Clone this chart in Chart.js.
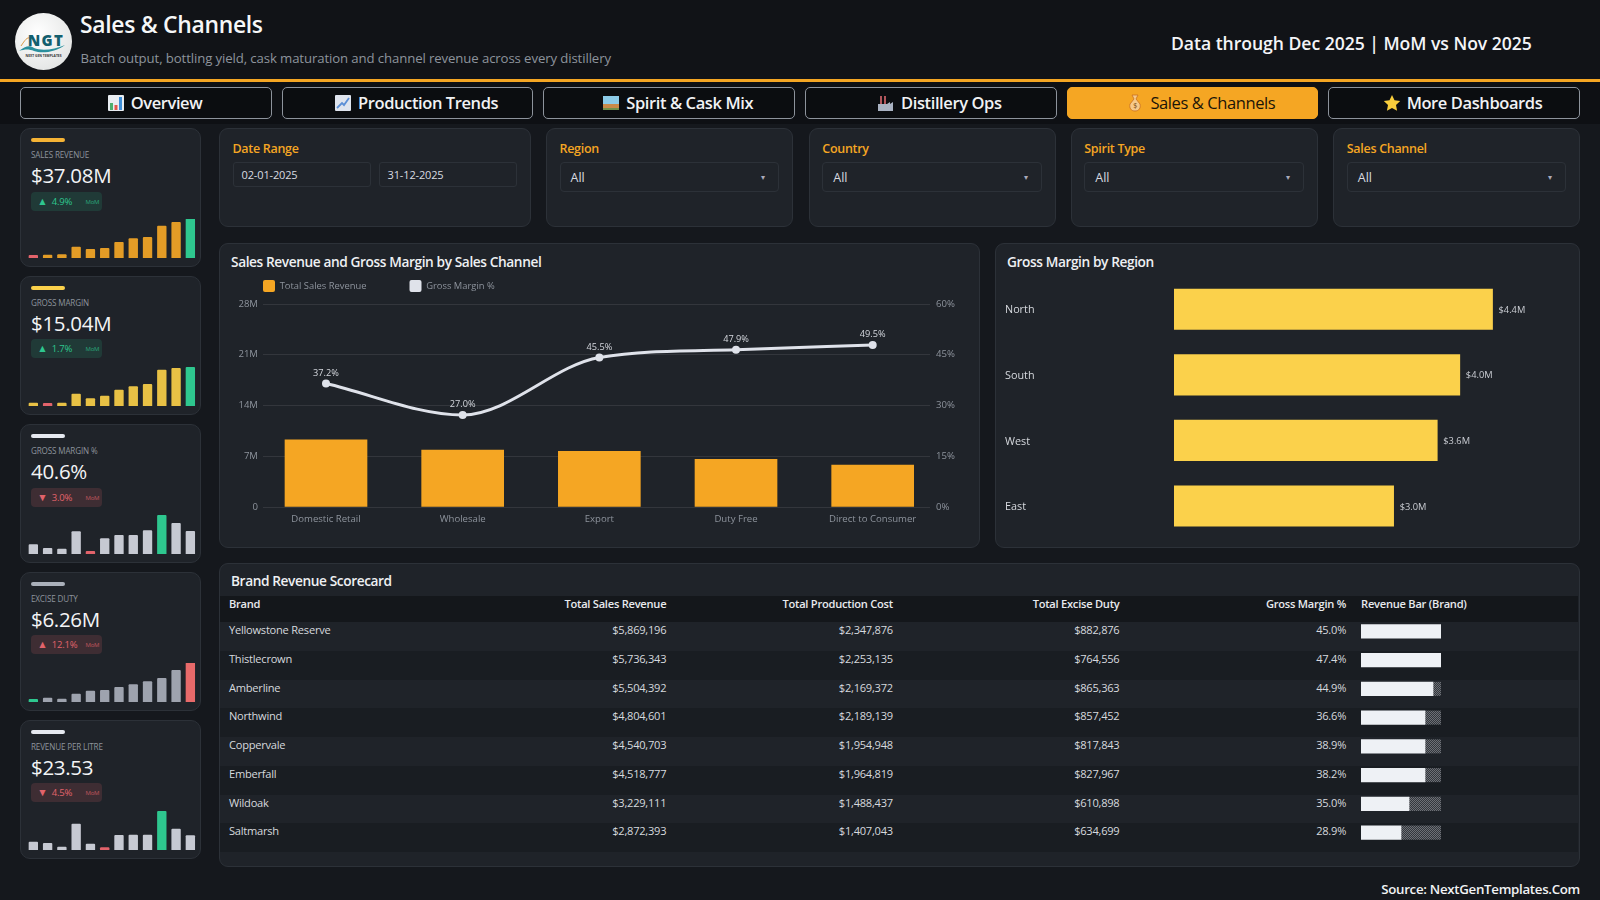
<!DOCTYPE html>
<html><head><meta charset="utf-8">
<script src="https://cdn.jsdelivr.net/npm/chart.js@4"></script>
<style>
*{box-sizing:border-box}
html,body{margin:0;padding:0;width:1600px;height:900px;overflow:hidden;background:#15181d;font-family:"Open Sans",sans-serif;color:#e8eaee}
.abs,canvas{position:absolute}
#top{left:0;top:0;width:1600px;height:79px;background:#111317}
#rule{left:0;top:78.5px;width:1600px;height:3.5px;background:#f5a623}
#nav{left:0;top:82px;width:1600px;height:42px;background:#0e1014}
.logo{left:15px;top:12.5px;width:57px;height:57px;border-radius:50%;background:radial-gradient(circle at 40% 35%,#fff,#dcdedd)}
.tab{top:86.7px;height:32px;width:251.6px;padding-left:17px;background:#0b0d10;border:1px solid #8d939c;border-radius:5px;display:flex;align-items:center;justify-content:center;gap:6px;font-size:16.5px;font-weight:600;letter-spacing:-.4px;color:#f1f2f4}
.tab.on{background:#f5a623;border-color:#f5a623;color:#1b1508;font-weight:500}
.tab svg{width:18px;height:18px}
.panel{background:#1f2329;border:1px solid #2c3138;border-radius:9px}
.flabel{top:140px;font-size:12.5px;font-weight:600;color:#f5a623;letter-spacing:-.3px}
.sel{top:162.3px;height:29.5px;border:1px solid #2c3138;border-radius:4px;font-size:12.5px;color:#d8dbe0;padding:6px 10px;line-height:18px}
.sel i{position:absolute;right:13px;top:5px;font-style:normal;font-size:8px;color:#aab}
.date{top:162.2px;height:24.5px;border:1px solid #2c3138;border-radius:3px;font-size:11px;color:#d8dbe0;padding:3px 8px;line-height:17px;letter-spacing:-.15px}
.accent{left:31px;width:34px;height:4px;border-radius:2px}
.klabel{left:31px;font-size:8.1px;color:#8d939c;letter-spacing:-.15px;white-space:nowrap}
.kval{left:31px;font-size:20.5px;font-weight:500;color:#f3f4f6;letter-spacing:-.3px;white-space:nowrap}
.badge{left:31.3px;width:71px;height:19px;border-radius:4px;font-size:9.5px;line-height:19px;padding-left:6px;white-space:nowrap;letter-spacing:-.2px}
.badge b{font-weight:400;font-size:10.5px;margin-right:2px}
.badge s{position:absolute;right:3px;top:0;text-decoration:none;font-size:6px;line-height:20px;opacity:.75}
.ptitle{font-size:13.7px;font-weight:600;color:#eef0f3;white-space:nowrap;letter-spacing:-.4px}
table{position:absolute;left:220px;top:596px;width:1358px;border-collapse:collapse;table-layout:fixed;font-size:11.1px;letter-spacing:-.24px}
th{height:26px;background:#14171b;font-weight:600;color:#e8eaee;padding:0 8px;vertical-align:top;line-height:16px;text-align:right}
td{height:28.77px;padding:0 8px;vertical-align:top;line-height:16.4px;text-align:right;color:#d6d9de}
th:first-child,td:first-child{text-align:left;padding-left:9px}
th:last-child,td:last-child{text-align:left;padding-left:7px}
tr.a td{background:#1f2329}tr.b td{background:#191d22}
</style></head><body>
<div class="abs" id="top"></div><div class="abs" id="nav"></div><div class="abs" id="rule"></div>
<div class="abs logo"><svg width="57" height="57" viewBox="0 0 57 57"><path d="M4 38c6-5 11-6 15-3 7 3 20 2 31-3-9 7-23 9-31 6-5-2-9-2-15 0z" fill="#2a8f9c"/><path d="M6 33c4-6 6-9 9-8" fill="none" stroke="#d99a45" stroke-width="1"/><text x="31" y="32.5" text-anchor="middle" font-family="Open Sans" font-weight="800" font-size="15" letter-spacing="1.4" fill="#145f6e">NGT</text><text x="28.5" y="44" text-anchor="middle" font-family="Open Sans" font-weight="700" font-size="3.3" fill="#333">NEXT GEN TEMPLATES</text></svg></div>
<div class="abs" id="h1" style="left:80px;top:8.7px;font-size:22.9px;font-weight:600;letter-spacing:-.3px;color:#f6f7f8;white-space:nowrap">Sales &amp; Channels</div>
<div class="abs" id="h2" style="left:80.5px;top:49px;font-size:13.2px;color:#8d939c;white-space:nowrap;letter-spacing:-.11px">Batch output, bottling yield, cask maturation and channel revenue across every distillery</div>
<div class="abs" id="h3" style="left:1171px;top:30.5px;font-size:17.6px;font-weight:600;color:#f4f5f7;white-space:nowrap;letter-spacing:-.04px">Data through Dec 2025 | MoM vs Nov 2025</div>
<div id="tabs"></div>
<div id="filters"></div>
<div id="kpis"></div>
<div class="abs panel" style="left:219px;top:243px;width:761px;height:305px"></div>
<div class="abs panel" style="left:995px;top:243px;width:585px;height:305px"></div>
<div class="abs panel" style="left:219px;top:563px;width:1361px;height:304px"></div>
<div class="abs ptitle" style="left:231px;top:252px">Sales Revenue and Gross Margin by Sales Channel</div>
<div class="abs ptitle" style="left:1007px;top:252px">Gross Margin by Region</div>
<div class="abs ptitle" style="left:231px;top:571px">Brand Revenue Scorecard</div>
<canvas id="combo" width="755" height="306" style="left:220px;top:237px"></canvas>
<canvas id="region" width="569" height="276" style="left:1005px;top:270px"></canvas>
<table id="tbl"></table>
<canvas id="brandBars" width="82" height="230" style="left:1360px;top:617px"></canvas>
<div class="abs" style="right:20px;top:880px;font-size:13.3px;font-weight:600;color:#f1f2f4;white-space:nowrap;letter-spacing:-.3px">Source: NextGenTemplates.Com</div>
<script>
const FONT='"Open Sans",sans-serif';
// ---- data ----
const tabNames=["Overview","Production Trends","Spirit & Cask Mix","Distillery Ops","Sales & Channels","More Dashboards"];
const filterNames=["Region","Country","Spirit Type","Sales Channel"];
const channels=["Domestic Retail","Wholesale","Export","Duty Free","Direct to Consumer"];
const channelRevenue=[9.28,7.86,7.67,6.57,5.79];
const channelMargin=[36.5,27.2,44.2,46.5,47.9];
const channelMarginLabels=["37.2%","27.0%","45.5%","47.9%","49.5%"];
const revenueTicks=[0,7,14,21,28];
const marginTicks=[0,15,30,45,60];
const regions=["North","South","West","East"];
const regionMargin=[4.38,3.93,3.62,3.02];
const regionLabels=["$4.4M","$4.0M","$3.6M","$3.0M"];
const brands=["Yellowstone Reserve","Thistlecrown","Amberline","Northwind","Coppervale","Emberfall","Wildoak","Saltmarsh"];
const brandRevenue=["$5,869,196","$5,736,343","$5,504,392","$4,804,601","$4,540,703","$4,518,777","$3,229,111","$2,872,393"];
const brandCost=["$2,347,876","$2,253,135","$2,169,372","$2,189,139","$1,954,948","$1,964,819","$1,488,437","$1,407,043"];
const brandExcise=["$882,876","$764,556","$865,363","$857,452","$817,843","$827,967","$610,898","$634,699"];
const brandMargin=["45.0%","47.4%","44.9%","36.6%","38.9%","38.2%","35.0%","28.9%"];
const brandBarPct=[100,100,90,80,80,80,60,50];
const kpiLabels=["SALES REVENUE","GROSS MARGIN","GROSS MARGIN %","EXCISE DUTY","REVENUE PER LITRE"];
const kpiValues=["$37.08M","$15.04M","40.6%","$6.26M","$23.53"];
const kpiDeltas=["4.9%","1.7%","3.0%","12.1%","4.5%"];
const kpiUp=[true,true,false,true,false];
const kpiGood=[true,true,false,false,false];
const kpiTops=[128.3,276,424.3,572,720];
const kpiAccent=["#f5b335","#fbd14b","#e6e9f0","#aab0ba","#e6e9f0"];
const kpiBar=["#e39c26","#e8c145","#c6c9d2","#9ea3ae","#c6c9d2"];
const spark1=[8,9,10,33,26,29,47,58,62,96,107,117];
const spark2=[9,8,9,36,22,30,48,58,65,108,113,116];
const spark3=[28,17,15,67,8,46,56,56,70,116,92,68];
const spark4=[8,12,9,24,33,35,44,52,61,71,95,117];
const spark5=[24,20,9,78,18,7,44,45,45,116,63,43];
const sparks=[spark1,spark2,spark3,spark4,spark5];
const GREEN="#2ec78f",RED="#e2636b";
const sparkMaxGreen=[true,true,true,false,true];

// ---- static DOM ----
const icons=[
'<svg viewBox="0 0 18 18"><rect x="1" y="1" width="16" height="16" rx="1" fill="#e9edf2"/><rect x="3" y="9" width="3" height="7" fill="#4caf6e"/><rect x="7.5" y="11" width="3" height="5" fill="#e2574c"/><rect x="12" y="3" width="3" height="13" fill="#3f8fd8"/></svg>',
'<svg viewBox="0 0 18 18"><rect x="1" y="1" width="16" height="16" rx="1" fill="#dfe4ee"/><path d="M3 14L8 9l2 2 5-7" fill="none" stroke="#5c8fd6" stroke-width="1.8"/></svg>',
'<svg viewBox="0 0 18 18"><rect x="1" y="2" width="16" height="14" fill="#8ccbe8"/><rect x="1" y="10" width="16" height="6" fill="#c98a4a"/><rect x="1" y="14" width="16" height="2" fill="#6f8f4a"/></svg>',
'<svg viewBox="0 0 18 18"><rect x="3" y="2" width="2" height="9" fill="#b0565c"/><rect x="7" y="2" width="2" height="9" fill="#b0565c"/><path d="M1 17V10h9l3-2v2l3-2v9z" fill="#a9b2c2"/></svg>',
'<svg viewBox="0 0 18 18"><path d="M6 1h6l-2 4 4 5c1 4-1 7-5 7s-6-3-5-7l4-5z" fill="#f6c98a" stroke="#c9701f" stroke-width=".8"/><text x="9" y="14" font-size="7" text-anchor="middle" fill="#7a4a10">$</text></svg>',
'<svg viewBox="0 0 18 18"><path d="M9 1l2.5 5.3 5.7.7-4.2 4 1.1 5.7L9 14l-5.1 2.7L5 11 .8 7l5.7-.7z" fill="#f8cd3c"/></svg>'];
document.getElementById('tabs').innerHTML=tabNames.map((t,i)=>`<div class="abs tab${i==4?' on':''}" style="left:${20.2+i*261.6}px">${icons[i]}<span></span></div>`).join('');
document.querySelectorAll('.tab span').forEach((s,i)=>s.textContent=tabNames[i]);
let f=`<div class="abs panel" style="left:219.4px;top:127.6px;width:311.4px;height:99px"></div><div class="abs flabel" style="left:232.5px">Date Range</div>
<div class="abs date" style="left:232.6px;width:138px">02-01-2025</div><div class="abs date" style="left:378.6px;width:138.7px">31-12-2025</div>`;
[546,808.8,1070.8,1333.3].forEach((x,i)=>{f+=`<div class="abs panel" style="left:${x}px;top:127.6px;width:247px;height:99px"></div><div class="abs flabel" style="left:${x+13.5}px">${filterNames[i]}</div><div class="abs sel" style="left:${x+13.5}px;width:219.5px">All<i>▾</i></div>`});
document.getElementById('filters').innerHTML=f;
document.getElementById('kpis').innerHTML=kpiLabels.map((l,i)=>{const t=kpiTops[i],c=kpiGood[i]?GREEN:RED,bg=kpiGood[i]?'rgba(46,199,143,.14)':'rgba(226,99,107,.16)';
return `<div class="abs panel" style="left:20px;top:${t}px;width:181px;height:139px;border-radius:10px"></div>
<div class="abs accent" style="top:${t+9.8}px;background:${kpiAccent[i]}"></div>
<div class="abs klabel" style="top:${t+21}px">${l}</div>
<div class="abs kval" style="top:${t+32.8}px">${kpiValues[i]}</div>
<div class="abs badge" style="top:${t+63.4}px;color:${c};background:${bg}"><b>${kpiUp[i]?'▲':'▼'}</b> ${kpiDeltas[i]}<s>MoM</s></div>
<canvas id="spark${i}" width="172" height="39" style="left:26px;top:${t+90.7}px"></canvas>`}).join('');
const widths=[240,214.3,226.6,226.6,226.6,223.9];
const heads=["Brand","Total Sales Revenue","Total Production Cost","Total Excise Duty","Gross Margin %","Revenue Bar (Brand)"];
document.getElementById('tbl').innerHTML='<colgroup>'+widths.map(w=>`<col style="width:${w}px">`).join('')+'</colgroup><tr>'+heads.map(h=>`<th>${h}</th>`).join('')+'</tr>'+
 brands.map((b,i)=>`<tr class="${i%2?'b':'a'}"><td>${b}</td><td>${brandRevenue[i]}</td><td>${brandCost[i]}</td><td>${brandExcise[i]}</td><td>${brandMargin[i]}</td><td></td></tr>`).join('');

// ---- charts ----
Chart.defaults.font.family=FONT;Chart.defaults.animation=false;
const tickCol='#8d939c',gridCol='rgba(255,255,255,.09)',TF=9.6;
const legendFit={id:'legendFit',beforeInit(c){const o=c.legend.fit;c.legend.fit=function(){o.call(this);this.height=67}}};
const lineLabels={id:'lineLabels',afterDatasetsDraw(c){const m=c.getDatasetMeta(1),x=c.ctx;x.save();x.font='9.2px '+FONT;x.fillStyle='#d5d8de';x.textAlign='center';x.textBaseline='middle';
 m.data.forEach((p,i)=>x.fillText(channelMarginLabels[i],p.x,p.y-10.5));x.restore()}};
const PXU=136.67;
new Chart(document.getElementById('combo'),{type:'bar',plugins:[legendFit,lineLabels],
 data:{datasets:[
  {type:'bar',label:'Total Sales Revenue',data:channelRevenue.map((v,i)=>({x:i,y:v})),yAxisID:'y',backgroundColor:'#f5a623',barThickness:82,order:2},
  {type:'line',label:'Gross Margin %',data:channelMargin.map((v,i)=>({x:i,y:v})),yAxisID:'y2',borderColor:'#dfe2ea',backgroundColor:'#dfe2ea',borderWidth:3,pointRadius:4,pointBackgroundColor:'#dfe2ea',pointBorderWidth:0,cubicInterpolationMode:'monotone',order:1}]},
 options:{responsive:false,layout:{padding:0},
  plugins:{tooltip:{enabled:false},legend:{display:true,position:'top',align:'start',onClick:null,
    labels:{boxWidth:12,boxHeight:12,padding:43,useBorderRadius:true,borderRadius:2,color:tickCol,font:{size:9.4},
     generateLabels:c=>c.data.datasets.map((d,i)=>({text:d.label,fillStyle:d.backgroundColor,strokeStyle:d.backgroundColor,lineWidth:0,fontColor:tickCol,datasetIndex:i,borderRadius:2}))}}},
  scales:{
   x:{type:'linear',offset:false,min:-(326-263)/PXU,max:(930-326)/PXU,grid:{display:false,offset:false},border:{display:false},
    afterBuildTicks:s=>{s.ticks=channels.map((_,i)=>({value:i}))},
    afterFit:s=>{s.height=36},
    ticks:{autoSkip:false,maxRotation:0,color:tickCol,font:{size:TF},padding:-1,callback:v=>channels[v]}},
   y:{position:'left',min:0,max:28,grid:{color:gridCol,drawTicks:false},border:{display:false},
    afterBuildTicks:s=>{s.ticks=revenueTicks.map(value=>({value}))},afterFit:s=>{s.width=43},
    ticks:{color:tickCol,font:{size:TF},padding:5,callback:v=>v?v+'M':'0'}},
   y2:{position:'right',min:0,max:60,grid:{display:false,drawTicks:false},border:{display:false},
    afterBuildTicks:s=>{s.ticks=marginTicks.map(value=>({value}))},afterFit:s=>{s.width=45},
    ticks:{color:tickCol,font:{size:TF},padding:6,callback:v=>v+'%'}}}}});

const barLabels={id:'barLabels',afterDatasetsDraw(c){const m=c.getDatasetMeta(0),x=c.ctx;x.save();x.font='9.3px '+FONT;x.fillStyle='#c9ccd2';x.textAlign='left';x.textBaseline='middle';
 m.data.forEach((p,i)=>x.fillText(regionLabels[i],p.x+6,p.y+1));x.restore()}};
new Chart(document.getElementById('region'),{type:'bar',plugins:[barLabels],
 data:{labels:regions,datasets:[{data:regionMargin,backgroundColor:'#fbd14b',barThickness:40.5}]},
 options:{indexAxis:'y',responsive:false,layout:{padding:{top:6.4,bottom:7.2}},plugins:{legend:{display:false},tooltip:{enabled:false}},
  scales:{x:{display:false,min:0,max:5.5},
   y:{grid:{display:false},border:{display:false},afterFit:s=>{s.width=169},
    ticks:{crossAlign:'far',color:'#d6d9de',font:{size:10.8},padding:0,labelOffset:1}}}}});

const pc=document.createElement('canvas');pc.width=pc.height=2;const px=pc.getContext('2d');px.fillStyle='#6d7076';px.fillRect(0,0,2,2);px.fillStyle='#33373d';px.fillRect(0,0,1,1);px.fillRect(1,1,1,1);
const hatch=px.createPattern(pc,'repeat');
new Chart(document.getElementById('brandBars'),{type:'bar',
 data:{labels:brands,datasets:[
  {data:brandBarPct,backgroundColor:'#eef1f5',barThickness:13.4,stack:'s'},
  {data:brandBarPct.map(v=>100-v),backgroundColor:hatch,barThickness:13.4,stack:'s'}]},
 options:{indexAxis:'y',responsive:false,layout:{padding:{left:1,right:1}},plugins:{legend:{display:false},tooltip:{enabled:false}},
  scales:{x:{display:false,stacked:true,min:0,max:100},y:{display:false,stacked:true}}}});

sparks.forEach((s,i)=>{const mx=Math.max(...s),mn=Math.min(...s);
 const cols=s.map(v=>v===mx?(sparkMaxGreen[i]?GREEN:'#e86a6a'):v===mn?(sparkMaxGreen[i]?RED:GREEN):kpiBar[i]);
 new Chart(document.getElementById('spark'+i),{type:'bar',data:{labels:s.map((_,k)=>k),datasets:[{data:s,backgroundColor:cols,barThickness:8.7,borderRadius:1}]},
 options:{responsive:false,layout:{padding:{left:.2,right:.5}},plugins:{legend:{display:false},tooltip:{enabled:false}},scales:{x:{display:false},y:{display:false,min:0,max:117}}}})});
</script>
</body></html>
